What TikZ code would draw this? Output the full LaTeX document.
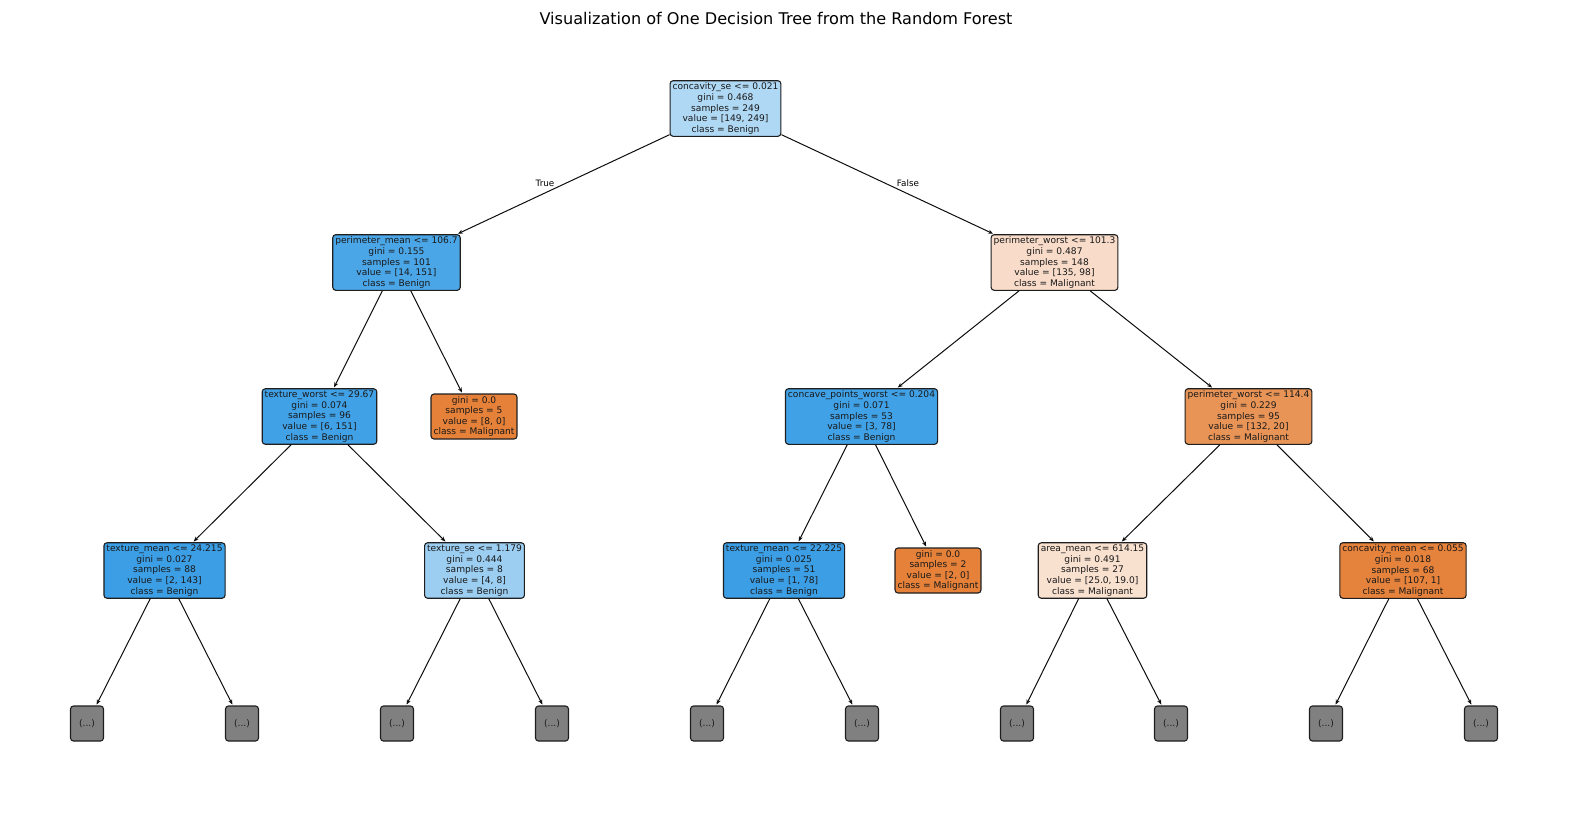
\documentclass[tikz,border=0pt]{standalone}
\usepackage{fontspec}
\setmainfont{DejaVu Sans}
\usetikzlibrary{arrows.meta}
\definecolor{c0}{RGB}{175,216,245}
\definecolor{c1}{RGB}{75,166,231}
\definecolor{c2}{RGB}{248,220,201}
\definecolor{c3}{RGB}{65,161,230}
\definecolor{corg}{RGB}{229,129,57}
\definecolor{c5}{RGB}{233,148,87}
\definecolor{c6}{RGB}{60,158,229}
\definecolor{c7}{RGB}{156,206,242}
\definecolor{c8}{RGB}{249,225,208}
\definecolor{c9}{RGB}{229,130,59}
\definecolor{cgray}{RGB}{128,128,128}
\definecolor{edgec}{RGB}{30,30,30}
\tikzset{
  tn/.style={draw=edgec, line width=1.1pt, rounded corners=3pt, align=center,
    inner xsep=2.5pt, inner ysep=2.2pt, font=\fontsize{9.1}{10.6}\selectfont, text=black!90},
  dots/.style={tn, fill=cgray, minimum width=33pt, minimum height=35pt},
  conn/.style={line width=1pt, draw=black!95, -{Stealth[length=5pt,width=4pt]}, shorten >=1pt},
  elab/.style={font=\fontsize{8.8}{10}\selectfont}
}
\begin{document}
\begin{tikzpicture}[x=1pt,y=1pt]
\useasboundingbox (0,0) rectangle (1570,-812);
\node (title) at (776,-18) {\fontsize{16.1}{20}\selectfont Visualization of One Decision Tree from the Random Forest};
% level 0
\node[tn, fill=c0] (r) at (725.5,-108.5) {concavity\_se <= 0.021\\gini = 0.468\\samples = 249\\value = [149, 249]\\class = Benign};
% level 1
\node[tn, fill=c1] (a) at (396.5,-262.5) {perimeter\_mean <= 106.7\\gini = 0.155\\samples = 101\\value = [14, 151]\\class = Benign};
\node[tn, fill=c2] (b) at (1054.5,-262.5) {perimeter\_worst <= 101.3\\gini = 0.487\\samples = 148\\value = [135, 98]\\class = Malignant};
% level 2
\node[tn, fill=c3] (aa) at (319.5,-416.5) {texture\_worst <= 29.67\\gini = 0.074\\samples = 96\\value = [6, 151]\\class = Benign};
\node[tn, fill=corg] (ab) at (474,-416.5) {gini = 0.0\\samples = 5\\value = [8, 0]\\class = Malignant};
\node[tn, fill=c3] (ba) at (861.5,-416.5) {concave\_points\_worst <= 0.204\\gini = 0.071\\samples = 53\\value = [3, 78]\\class = Benign};
\node[tn, fill=c5] (bb) at (1248.5,-416.5) {perimeter\_worst <= 114.4\\gini = 0.229\\samples = 95\\value = [132, 20]\\class = Malignant};
% level 3
\node[tn, fill=c6] (aaa) at (164.5,-570.5) {texture\_mean <= 24.215\\gini = 0.027\\samples = 88\\value = [2, 143]\\class = Benign};
\node[tn, fill=c7] (aab) at (474.5,-570.5) {texture\_se <= 1.179\\gini = 0.444\\samples = 8\\value = [4, 8]\\class = Benign};
\node[tn, fill=c6] (baa) at (784,-570.5) {texture\_mean <= 22.225\\gini = 0.025\\samples = 51\\value = [1, 78]\\class = Benign};
\node[tn, fill=corg] (bab) at (938,-570.5) {gini = 0.0\\samples = 2\\value = [2, 0]\\class = Malignant};
\node[tn, fill=c8] (bba) at (1092.5,-570.5) {area\_mean <= 614.15\\gini = 0.491\\samples = 27\\value = [25.0, 19.0]\\class = Malignant};
\node[tn, fill=c9] (bbb) at (1403,-570.5) {concavity\_mean <= 0.055\\gini = 0.018\\samples = 68\\value = [107, 1]\\class = Malignant};
% level 4
\node[dots] (d1) at (87,-723.5) {(...)};
\node[dots] (d2) at (242,-723.5) {(...)};
\node[dots] (d3) at (397,-723.5) {(...)};
\node[dots] (d4) at (552,-723.5) {(...)};
\node[dots] (d5) at (707,-723.5) {(...)};
\node[dots] (d6) at (862,-723.5) {(...)};
\node[dots] (d7) at (1017,-723.5) {(...)};
\node[dots] (d8) at (1171,-723.5) {(...)};
\node[dots] (d9) at (1326,-723.5) {(...)};
\node[dots] (d10) at (1481,-723.5) {(...)};
% connectors
\draw[conn] (r) -- (a);
\draw[conn] (r) -- (b);
\draw[conn] (a) -- (aa);
\draw[conn] (a) -- (ab);
\draw[conn] (b) -- (ba);
\draw[conn] (b) -- (bb);
\draw[conn] (aa) -- (aaa);
\draw[conn] (aa) -- (aab);
\draw[conn] (ba) -- (baa);
\draw[conn] (ba) -- (bab);
\draw[conn] (bb) -- (bba);
\draw[conn] (bb) -- (bbb);
\draw[conn] (aaa) -- (d1);
\draw[conn] (aaa) -- (d2);
\draw[conn] (aab) -- (d3);
\draw[conn] (aab) -- (d4);
\draw[conn] (baa) -- (d5);
\draw[conn] (baa) -- (d6);
\draw[conn] (bba) -- (d7);
\draw[conn] (bba) -- (d8);
\draw[conn] (bbb) -- (d9);
\draw[conn] (bbb) -- (d10);
\node[elab] (lt) at (545,-183) {True};
\node[elab] (lf) at (908,-183) {False};
\end{tikzpicture}
\end{document}
